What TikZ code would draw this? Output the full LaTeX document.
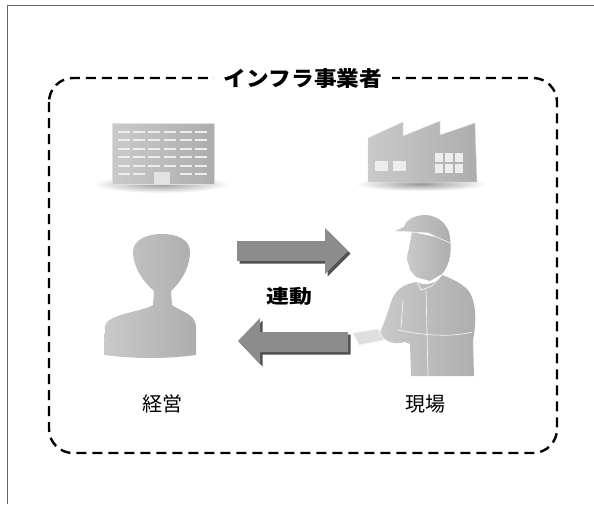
\documentclass[tikz,border=0pt]{standalone}
\usepackage{fontspec}
\setmainfont{Noto Sans CJK JP}
\usetikzlibrary{shadows}

\begin{document}
\begin{tikzpicture}[x=1pt,y=-1pt,line join=round]
\tikzstyle{icon}=[left color=gray!42,right color=gray!64]
\tikzstyle{pane}=[fill=gray!14]
\tikzstyle{floor}=[inner color=gray!80,outer color=white]
\tikzstyle{flow}=[fill=black!45,drop shadow={shadow xshift=2.5pt,shadow yshift=-2.5pt,fill=black!80,opacity=0.85}]
\tikzstyle{seam}=[draw=white!90!gray,line width=0.7pt]
\tikzstyle{every node}=[font=\fontsize{20}{22}\selectfont]
\useasboundingbox (0,0) rectangle (594,504);

% page frame
\draw[black!60] (7,504) -- (7,5.5) -- (594,5.5);

% dashed group
\draw[line width=2.4pt,dash pattern=on 10pt off 6pt,rounded corners=24pt]
  (49,78) rectangle (557,453);
\node[fill=white,inner xsep=10pt,font=\bfseries\fontsize{21}{23}\selectfont]
  (owner) at (303,79) {\scalebox{1.08}[1]{インフラ事業者}};

% office building
\shade[floor] (161,184) ellipse (68 and 9);
\path[icon,draw=gray!25] (112,123) rectangle (214,184);
\foreach \r in {0,...,4}
  \foreach \x in {118,133,148,164,180,195}
    \fill[pane] (\x,131+8.4*\r) rectangle ++(12,2);
\foreach \x in {118,133,180,195}
  \fill[pane] (\x,173) rectangle ++(12,2);
\fill[gray!22] (154,172) rectangle (170,184);

% factory
\shade[floor] (421,184) ellipse (66 and 7);
\path[icon,draw=gray!25] (368,138) -- (403,122) -- (403,136) -- (440,121)
  -- (440,135) -- (475,123) -- (477,182) -- (368,182) -- cycle;
\fill[pane] (375,161) rectangle (388,171);
\fill[pane] (393,161) rectangle (406,171);
\foreach \x in {435,445,455}
  \foreach \y in {153,164}
    \fill[pane] (\x,\y) rectangle ++(8,9);

% manager
\path[icon] (154,291) .. controls (139,278) and (133,263) .. (133,252)
  .. controls (133,240) and (146,234) .. (162,234)
  .. controls (178,234) and (190,240) .. (190,252)
  .. controls (190,263) and (185,278) .. (171,291)
  -- (172,305) .. controls (182,312) and (195,314) .. (196,326)
  -- (196,355) .. controls (165,359) and (135,359) .. (104,355)
  -- (105,326) .. controls (107,314) and (142,312) .. (153,305) -- cycle;

% worker
\path[icon] (417,282) .. controls (403,284) and (395,290) .. (391,302)
  .. controls (387,315) and (383,325) .. (380,333)
  .. controls (384,342) and (395,345) .. (405,342)
  -- (410,344) -- (411,376) -- (474,376) -- (473,340)
  .. controls (477,320) and (476,300) .. (468,290)
  .. controls (460,282) and (450,278) .. (442,275)
  .. controls (435,285) and (424,286) .. (417,282) -- cycle;
\path[icon] (412,232) -- (407,258) -- (410,270) -- (416,277) -- (430,281)
  -- (442,274) .. controls (450,265) and (452,250) .. (450,240) -- cycle;
\path[icon] (395,231) -- (428,233) -- (450,243)
  .. controls (452,228) and (440,215) .. (425,215)
  .. controls (412,215) and (405,222) .. (404,227) -- cycle;
\path[seam] (395,231) -- (428,233) -- (450,243);
\path[seam] (417,282) -- (421,290) -- (432,286) -- (442,275);
\path[seam] (426,289) -- (428,376);
\path[seam] (472,332) .. controls (455,337) and (425,336) .. (398,330);
\path[seam] (403,300) -- (401,328);
\path[fill=gray!25,seam] (353,333) -- (378,329) -- (384,340) -- (359,345) -- cycle;

% link arrows
\path[flow] (237,241) -- (325,241) -- (325,228) -- (348,251) -- (325,274)
  -- (325,261) -- (237,261) -- cycle;
\path[flow] (348,332) -- (260,332) -- (260,318) -- (238,341) -- (260,364)
  -- (260,352) -- (348,352) -- cycle;

% labels
\node[font=\bfseries\fontsize{19}{21}\selectfont] (link) at (289,296)
  {\scalebox{1.2}[1]{連動}};
\node (manager) at (162,404) {経営};
\node (site) at (425,404) {現場};
\end{tikzpicture}
\end{document}
